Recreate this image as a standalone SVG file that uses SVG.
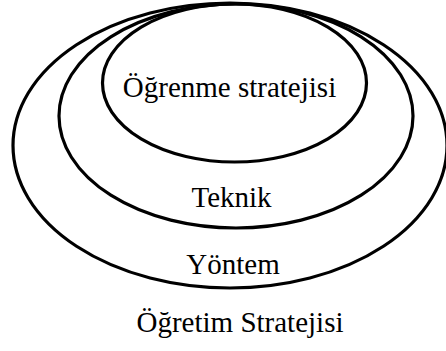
<svg xmlns="http://www.w3.org/2000/svg" width="446" height="351" viewBox="0 0 446 351">
<style>
.e{fill:none;stroke:#000;stroke-width:3.2}
.t{font-family:"Liberation Serif","Times New Roman",serif;font-size:29px;fill:#000;text-anchor:middle}
</style>
<rect width="446" height="351" fill="#fff"/>
<g id="ogretim-stratejisi">
<text class="t" x="240" y="332">Öğretim Stratejisi</text>
</g>
<g id="yontem">
<ellipse class="e" cx="230" cy="145.5" rx="217" ry="142.5"/>
<text class="t" x="233" y="274">Yöntem</text>
</g>
<g id="teknik">
<ellipse class="e" cx="236" cy="116" rx="177" ry="112"/>
<text class="t" x="231.5" y="207">Teknik</text>
</g>
<g id="ogrenme-stratejisi">
<ellipse class="e" cx="234.5" cy="83" rx="132" ry="79"/>
<text class="t" x="229.5" y="97">Öğrenme stratejisi</text>
</g>
<g id="connectors"></g>
</svg>
